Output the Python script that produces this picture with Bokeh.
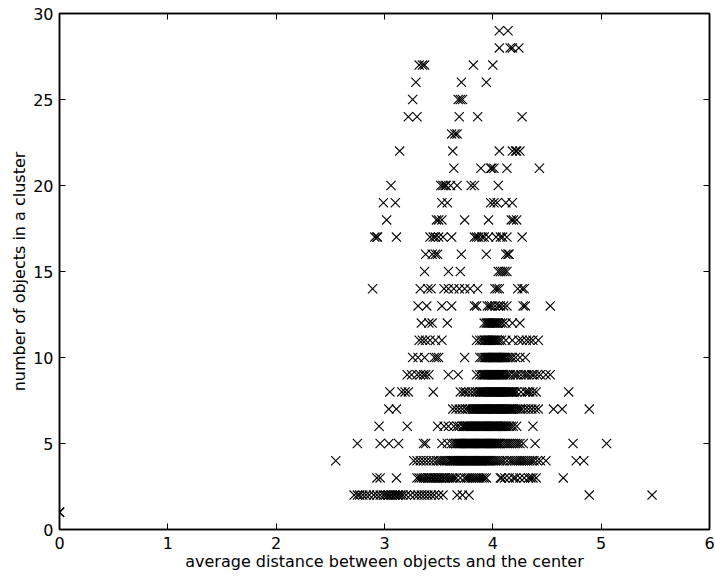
from bokeh.plotting import figure
from bokeh.models import Range1d, LinearAxis, FixedTicker, CustomJSTickFormatter, ColumnDataSource
from bokeh.embed import file_html
from bokeh.resources import INLINE

x_ticks = [0, 1, 2, 3, 4, 5, 6]
y_ticks = [0, 5, 10, 15, 20, 25, 30]
x_title = "average distance between objects and the center"
y_title = "number of objects in a cluster"

# x values (average distance) for each cluster size (y)
row_01 = [0.0, 0.0, 0.0]
row_02 = [2.72, 2.75, 2.77, 2.80, 2.83, 2.86, 2.90, 2.93, 2.96, 2.99, 3.01, 3.03, 3.04, 3.06, 3.07,
          3.09, 3.10, 3.12, 3.13, 3.15, 3.17, 3.20, 3.24, 3.28, 3.31, 3.34, 3.37, 3.40, 3.43, 3.46,
          3.50, 3.54, 3.67, 3.72, 3.78, 4.89, 5.47]
row_03 = [2.93, 2.96, 3.11, 3.30, 3.32, 3.34, 3.36, 3.38, 3.40, 3.41, 3.43, 3.44, 3.46, 3.47, 3.49,
          3.50, 3.52, 3.53, 3.55, 3.56, 3.58, 3.60, 3.62, 3.64, 3.66, 3.70, 3.74, 3.76, 3.78, 3.80,
          3.82, 3.84, 3.86, 3.88, 3.90, 3.92, 3.94, 4.07, 4.08, 4.11, 4.15, 4.19, 4.21, 4.25, 4.29,
          4.33, 4.35, 4.37, 4.40, 4.65]
row_04 = [2.55, 3.27, 3.30, 3.33, 3.36, 3.39, 3.42, 3.45, 3.48, 3.50, 3.52, 3.54, 3.56, 3.58, 3.60,
          3.61, 3.62, 3.63, 3.64, 3.65, 3.66, 3.67, 3.68, 3.69, 3.70, 3.71, 3.72, 3.73, 3.74, 3.75,
          3.76, 3.77, 3.78, 3.79, 3.80, 3.81, 3.82, 3.83, 3.84, 3.85, 3.86, 3.87, 3.88, 3.89, 3.90,
          3.91, 3.92, 3.93, 3.94, 3.95, 3.96, 3.97, 3.98, 4.00, 4.02, 4.04, 4.06, 4.08, 4.10, 4.13,
          4.16, 4.18, 4.20, 4.22, 4.24, 4.26, 4.28, 4.30, 4.32, 4.34, 4.36, 4.38, 4.41, 4.44, 4.49,
          4.77, 4.84]
row_05 = [2.75, 2.96, 3.04, 3.13, 3.36, 3.38, 3.53, 3.58, 3.62, 3.64, 3.66, 3.67, 3.68, 3.69, 3.70,
          3.71, 3.72, 3.73, 3.74, 3.75, 3.76, 3.77, 3.78, 3.79, 3.80, 3.81, 3.82, 3.83, 3.84, 3.85,
          3.86, 3.87, 3.88, 3.89, 3.90, 3.91, 3.92, 3.93, 3.94, 3.95, 3.96, 3.97, 3.98, 3.99, 4.00,
          4.01, 4.02, 4.03, 4.04, 4.05, 4.06, 4.07, 4.09, 4.11, 4.13, 4.15, 4.17, 4.19, 4.21, 4.23,
          4.25, 4.28, 4.39, 4.74, 5.05]
row_06 = [2.95, 3.21, 3.49, 3.55, 3.59, 3.64, 3.67, 3.69, 3.72, 3.73, 3.74, 3.75, 3.76, 3.77, 3.78,
          3.79, 3.80, 3.81, 3.82, 3.83, 3.84, 3.85, 3.86, 3.87, 3.88, 3.89, 3.90, 3.91, 3.92, 3.93,
          3.94, 3.95, 3.96, 3.97, 3.98, 3.99, 4.00, 4.01, 4.02, 4.03, 4.04, 4.05, 4.06, 4.07, 4.08,
          4.09, 4.10, 4.11, 4.12, 4.13, 4.15, 4.17, 4.19, 4.22, 4.37]
row_07 = [3.04, 3.11, 3.63, 3.66, 3.69, 3.72, 3.75, 3.77, 3.79, 3.81, 3.82, 3.83, 3.84, 3.85, 3.86,
          3.87, 3.88, 3.89, 3.90, 3.91, 3.92, 3.93, 3.94, 3.95, 3.96, 3.97, 3.98, 3.99, 4.00, 4.01,
          4.02, 4.03, 4.04, 4.05, 4.06, 4.07, 4.08, 4.09, 4.10, 4.11, 4.12, 4.13, 4.14, 4.15, 4.16,
          4.17, 4.18, 4.19, 4.21, 4.23, 4.25, 4.27, 4.30, 4.33, 4.36, 4.39, 4.42, 4.56, 4.64, 4.89]
row_08 = [3.05, 3.16, 3.19, 3.22, 3.45, 3.70, 3.73, 3.75, 3.78, 3.81, 3.84, 3.86, 3.88, 3.89, 3.90,
          3.91, 3.92, 3.93, 3.94, 3.95, 3.96, 3.97, 3.98, 3.99, 4.00, 4.01, 4.02, 4.03, 4.04, 4.05,
          4.06, 4.07, 4.08, 4.09, 4.10, 4.11, 4.12, 4.13, 4.14, 4.15, 4.16, 4.17, 4.18, 4.19, 4.20,
          4.22, 4.26, 4.30, 4.32, 4.34, 4.37, 4.40, 4.70]
row_09 = [3.21, 3.25, 3.30, 3.33, 3.36, 3.38, 3.41, 3.59, 3.68, 3.85, 3.88, 3.90, 3.91, 3.92, 3.93,
          3.94, 3.95, 3.96, 3.97, 3.98, 3.99, 4.00, 4.01, 4.02, 4.03, 4.04, 4.05, 4.06, 4.07, 4.08,
          4.09, 4.10, 4.12, 4.14, 4.16, 4.19, 4.21, 4.23, 4.26, 4.29, 4.31, 4.33, 4.36, 4.38, 4.41,
          4.44, 4.49, 4.53]
row_10 = [3.26, 3.31, 3.37, 3.46, 3.48, 3.50, 3.74, 3.88, 3.90, 3.92, 3.93, 3.94, 3.95, 3.96, 3.97,
          3.98, 3.99, 4.00, 4.01, 4.02, 4.03, 4.04, 4.05, 4.06, 4.07, 4.08, 4.09, 4.10, 4.11, 4.12,
          4.14, 4.16, 4.18, 4.21, 4.25, 4.30]
row_11 = [3.32, 3.35, 3.38, 3.42, 3.47, 3.53, 3.85, 3.88, 3.90, 3.92, 3.93, 3.94, 3.95, 3.96, 3.97,
          3.98, 3.99, 4.00, 4.01, 4.02, 4.03, 4.04, 4.06, 4.08, 4.12, 4.18, 4.24, 4.27, 4.31, 4.34,
          4.37, 4.42]
row_12 = [3.34, 3.41, 3.44, 3.58, 3.92, 3.94, 3.95, 3.96, 3.97, 3.98, 3.99, 4.00, 4.01, 4.02, 4.03,
          4.04, 4.05, 4.07, 4.09, 4.12, 4.18, 4.25]
row_13 = [3.31, 3.39, 3.53, 3.62, 3.83, 3.85, 3.95, 3.97, 3.99, 4.02, 4.05, 4.07, 4.10, 4.13, 4.28,
          4.30, 4.53]
row_14 = [2.89, 3.33, 3.40, 3.43, 3.55, 3.59, 3.64, 3.69, 3.74, 3.79, 3.86, 4.02, 4.04, 4.06, 4.23,
          4.27, 4.29]
row_15 = [3.37, 3.59, 3.70, 4.05, 4.07, 4.09, 4.11, 4.13]
row_16 = [3.38, 3.44, 3.47, 3.49, 3.71, 3.94, 4.12, 4.14, 4.15]
row_17 = [2.91, 2.93, 2.935, 3.11, 3.42, 3.45, 3.47, 3.50, 3.54, 3.62, 3.83, 3.85, 3.87, 3.90, 3.92,
          3.96, 4.03, 4.07, 4.09, 4.13, 4.27]
row_18 = [3.02, 3.48, 3.50, 3.53, 3.74, 3.96, 4.17, 4.19, 4.22]
row_19 = [2.99, 3.10, 3.53, 3.58, 3.98, 4.01, 4.04, 4.12, 4.18]
row_20 = [3.06, 3.52, 3.54, 3.56, 3.57, 3.61, 3.67, 3.80, 3.83, 4.05]
row_21 = [3.64, 3.89, 3.98, 3.99, 4.01, 4.13, 4.43]
row_22 = [3.14, 3.63, 4.06, 4.18, 4.21, 4.22, 4.25]
row_23 = [3.62, 3.65, 3.67]
row_24 = [3.22, 3.30, 3.69, 3.86, 4.27]
row_25 = [3.26, 3.68, 3.70, 3.72]
row_26 = [3.29, 3.71, 3.94]
row_27 = [3.32, 3.35, 3.37, 3.82, 4.00]
row_28 = [4.06, 4.16, 4.18, 4.24]
row_29 = [4.06, 4.14]

rows = [row_01, row_02, row_03, row_04, row_05, row_06, row_07, row_08, row_09, row_10,
        row_11, row_12, row_13, row_14, row_15, row_16, row_17, row_18, row_19, row_20,
        row_21, row_22, row_23, row_24, row_25, row_26, row_27, row_28, row_29]

xs, ys = [], []
for count, vals in enumerate(rows, start=1):
    xs.extend(vals)
    ys.extend([count] * len(vals))
src = ColumnDataSource(data=dict(x=xs, y=ys))

FONT = "DejaVu Sans"
FS = "16px"

p = figure(width=715, height=578, output_backend="svg", toolbar_location=None,
           x_range=Range1d(0, 6), y_range=Range1d(0, 30),
           x_axis_location=None, y_axis_location=None,
           min_border_left=59, min_border_right=6, min_border_top=13, min_border_bottom=49)
p.background_fill_color = "white"
p.border_fill_color = "white"
p.outline_line_color = "black"
p.outline_line_width = 1.5
p.xgrid.visible = False
p.ygrid.visible = False


def style(ax, ticks, show_labels, standoff):
    ax.ticker = FixedTicker(ticks=ticks)
    ax.minor_tick_line_color = None
    ax.major_tick_in = 6
    ax.major_tick_out = 0
    ax.major_tick_line_color = "black"
    ax.major_tick_line_width = 1
    ax.axis_line_color = "black"
    ax.axis_line_width = 1.5
    ax.major_label_text_font = FONT
    ax.major_label_text_color = "black"
    ax.axis_label_text_font = FONT
    ax.axis_label_text_font_style = "normal"
    ax.axis_label_text_color = "black"
    ax.axis_label_text_font_size = FS
    if show_labels:
        ax.major_label_text_font_size = FS
        ax.major_label_standoff = standoff
    else:
        ax.major_label_text_font_size = "0px"
        ax.major_label_standoff = 0
        ax.formatter = CustomJSTickFormatter(code="return ''")


xb = LinearAxis(axis_label=x_title)
style(xb, x_ticks, True, 7)
xb.axis_label_standoff = 0
p.add_layout(xb, "below")

yl = LinearAxis(axis_label=y_title)
style(yl, y_ticks, True, 6)
yl.axis_label_standoff = 1
p.add_layout(yl, "left")

xt = LinearAxis()
style(xt, x_ticks, False, 0)
p.add_layout(xt, "above")

yr = LinearAxis()
style(yr, y_ticks, False, 0)
p.add_layout(yr, "right")

p.scatter("x", "y", source=src, marker="x", size=13, line_color="black", line_width=1.1)

open("out.html", "w").write(file_html(p, INLINE))
